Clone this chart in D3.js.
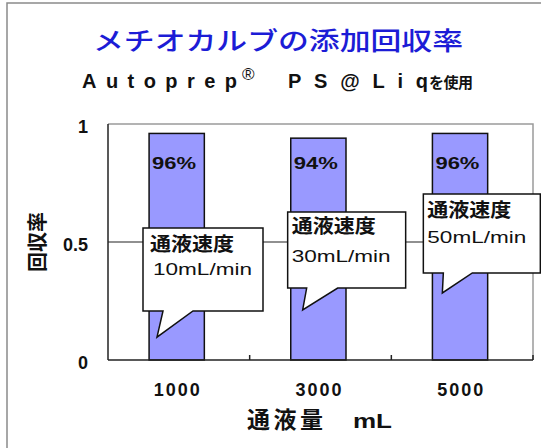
<!DOCTYPE html>
<html><head><meta charset="utf-8">
<script src="https://cdn.jsdelivr.net/npm/d3@7"></script>
<style>body{margin:0;background:#fff}svg{display:block}</style>
</head><body><svg id="c" width="541" height="448"></svg>
<script>
// ---- data ----
const categories = ["1000", "3000", "5000"];
const recovery = [0.96, 0.94, 0.96];
const percentLabels = ["96%", "94%", "96%"];
const yTicks = [0, 0.5, 1];
const calloutHeadings = ["通液速度", "通液速度", "通液速度"];
const calloutSpeeds = ["10mL/min", "30mL/min", "50mL/min"];
const titleText = "メチオカルブの添加回収率";
const yTitle = "回収率";
const xTitle = "通液量";
const xUnit = "mL";

// ---- layout ----
const svg = d3.select("#c");
const JP = "'Noto Sans CJK JP', sans-serif";
const LAT = "'Liberation Sans', Arial, sans-serif";
const plot = {left: 108, right: 533, top: 124, bottom: 360};

const x = d3.scaleBand().domain(categories).range([plot.left, plot.right]).padding(0);
const y = d3.scaleLinear().domain([0, 1]).range([plot.bottom, plot.top]);
const bw = x.bandwidth();

// outer frame
svg.append("rect").attr("x", 7).attr("y", 3).attr("width", 620).attr("height", 520)
  .attr("fill", "none").attr("stroke", "#8a8a8a").attr("stroke-width", 1.5);

// title
svg.append("text").attr("x", 93).attr("y", 50).attr("font-family", JP).attr("font-size", 25)
  .attr("font-weight", 500).attr("fill", "#1c1cd6").attr("textLength", 370)
  .attr("lengthAdjust", "spacingAndGlyphs").text(titleText);

// subtitle
const sub = [
  {t: "Autoprep", x: 82, len: 155, f: LAT, s: 20},
  {t: "PS@Liq", x: 288, len: 140, f: LAT, s: 20},
  {t: "を使用", x: 429, len: 44, f: JP, s: 15}
];
sub.forEach(d => svg.append("text").attr("x", d.x).attr("y", 88).attr("font-family", d.f)
  .attr("font-size", d.s).attr("font-weight", "bold").attr("fill", "#111")
  .attr("textLength", d.len).attr("lengthAdjust", "spacing").text(d.t));
svg.append("text").attr("x", 242).attr("y", 80).attr("font-family", LAT).attr("font-size", 17)
  .attr("fill", "#111").text("®");

// plot frame (top/right gray)
svg.append("path").attr("d", `M${plot.left},${plot.top}H${plot.right}V${plot.bottom}`)
  .attr("fill", "none").attr("stroke", "#9a9a9a").attr("stroke-width", 1.5);

// gridline 0.5
svg.append("line").attr("x1", plot.left).attr("x2", plot.right)
  .attr("y1", y(0.5)).attr("y2", y(0.5)).attr("stroke", "#222").attr("stroke-width", 1.2);

// bars
const barOff = 0.29, barW = 0.39;
svg.append("g").selectAll("rect").data(recovery).join("rect")
  .attr("x", (d, i) => x(categories[i]) + bw * barOff)
  .attr("width", bw * barW)
  .attr("y", d => y(d)).attr("height", d => y(0) - y(d))
  .attr("fill", "#9999ff").attr("stroke", "#111").attr("stroke-width", 1.5);

// percent labels
svg.append("g").selectAll("text").data(percentLabels).join("text")
  .attr("x", (d, i) => x(categories[i]) + bw * barOff + 3)
  .attr("y", y(1) + 45)
  .attr("font-family", LAT).attr("font-size", 17).attr("font-weight", "bold").attr("fill", "#111")
  .attr("textLength", 44).attr("lengthAdjust", "spacingAndGlyphs").text(d => d);

// axes lines
svg.append("line").attr("x1", plot.left).attr("x2", plot.left).attr("y1", plot.top).attr("y2", plot.bottom)
  .attr("stroke", "#222").attr("stroke-width", 1.5);
svg.append("line").attr("x1", plot.left).attr("x2", plot.right).attr("y1", plot.bottom).attr("y2", plot.bottom)
  .attr("stroke", "#222").attr("stroke-width", 1.5);
// category boundary ticks
const bounds = categories.slice(1).map(c => x(c)).concat([plot.right]);
svg.append("g").selectAll("line").data(bounds).join("line")
  .attr("x1", d => d).attr("x2", d => d).attr("y1", plot.bottom).attr("y2", plot.bottom - 5)
  .attr("stroke", "#222").attr("stroke-width", 1.5);

// y axis
const ya = svg.append("g").attr("transform", `translate(${plot.left},3)`)
  .call(d3.axisLeft(y).tickValues(yTicks).tickSize(0).tickPadding(20).tickFormat(d3.format("")));
ya.select(".domain").remove();
ya.selectAll("text").attr("font-family", LAT).attr("font-size", 18).attr("font-weight", "bold").attr("fill", "#111");

// x axis
const xa = svg.append("g").attr("transform", `translate(-1,${plot.bottom})`)
  .call(d3.axisBottom(x).tickSize(0).tickPadding(23));
xa.select(".domain").remove();
xa.selectAll("text").attr("font-family", LAT).attr("font-size", 18).attr("font-weight", "bold")
  .attr("fill", "#111").attr("letter-spacing", 2);

// axis titles
svg.append("text").attr("transform", `translate(36,${y(0.5)}) rotate(-90)`)
  .attr("text-anchor", "middle").attr("dominant-baseline", "central")
  .attr("font-family", JP).attr("font-size", 20).attr("font-weight", "bold").attr("fill", "#111")
  .text(yTitle);
svg.append("text").attr("x", 247).attr("y", 428).attr("font-family", JP).attr("font-size", 23)
  .attr("font-weight", "bold").attr("fill", "#111").attr("textLength", 76).text(xTitle);
svg.append("text").attr("x", 353).attr("y", 428).attr("font-family", LAT).attr("font-size", 21)
  .attr("font-weight", "bold").attr("fill", "#111").attr("textLength", 39)
  .attr("lengthAdjust", "spacingAndGlyphs").text(xUnit);

// callouts (box edges in data units, offsets in px from band start)
const callLayout = [
  {dx: 35, w: 120, top: 0.559, bottom: 0.208, tipDx: 14, tipY: 0.097, b1: 20, b2: 50, l1: 7, l2: 10, h1: 23, h2: 47},
  {dx: 38, w: 118, top: 0.627, bottom: 0.305, tipDx: 15, tipY: 0.212, b1: 19, b2: 50, l1: 4, l2: 4, h1: 21, h2: 50},
  {dx: 32, w: 117, top: 0.703, bottom: 0.369, tipDx: 19, tipY: 0.284, b1: 20, b2: 49, l1: 4, l2: 4, h1: 23, h2: 49}
];
const cg = svg.append("g");
callLayout.forEach((c, i) => {
  const L = x(categories[i]) + c.dx, R = L + c.w, T = y(c.top), B = y(c.bottom);
  const p = d3.path();
  p.moveTo(L, T); p.lineTo(R, T); p.lineTo(R, B);
  p.lineTo(L + c.b2, B); p.lineTo(L + c.tipDx, y(c.tipY)); p.lineTo(L + c.b1, B);
  p.lineTo(L, B); p.closePath();
  cg.append("path").attr("d", p.toString()).attr("fill", "#fff").attr("stroke", "#111")
    .attr("stroke-width", 1.5).attr("stroke-linejoin", "miter");
  cg.append("text").attr("x", L + c.l1).attr("y", T + c.h1).attr("font-family", JP)
    .attr("font-size", 19).attr("font-weight", "bold").attr("fill", "#111")
    .attr("textLength", 84).attr("lengthAdjust", "spacingAndGlyphs").text(calloutHeadings[i]);
  cg.append("text").attr("x", L + c.l2).attr("y", T + c.h2).attr("font-family", LAT)
    .attr("font-size", 17).attr("fill", "#111")
    .attr("textLength", 99).attr("lengthAdjust", "spacingAndGlyphs").text(calloutSpeeds[i]);
});
</script></body></html>
